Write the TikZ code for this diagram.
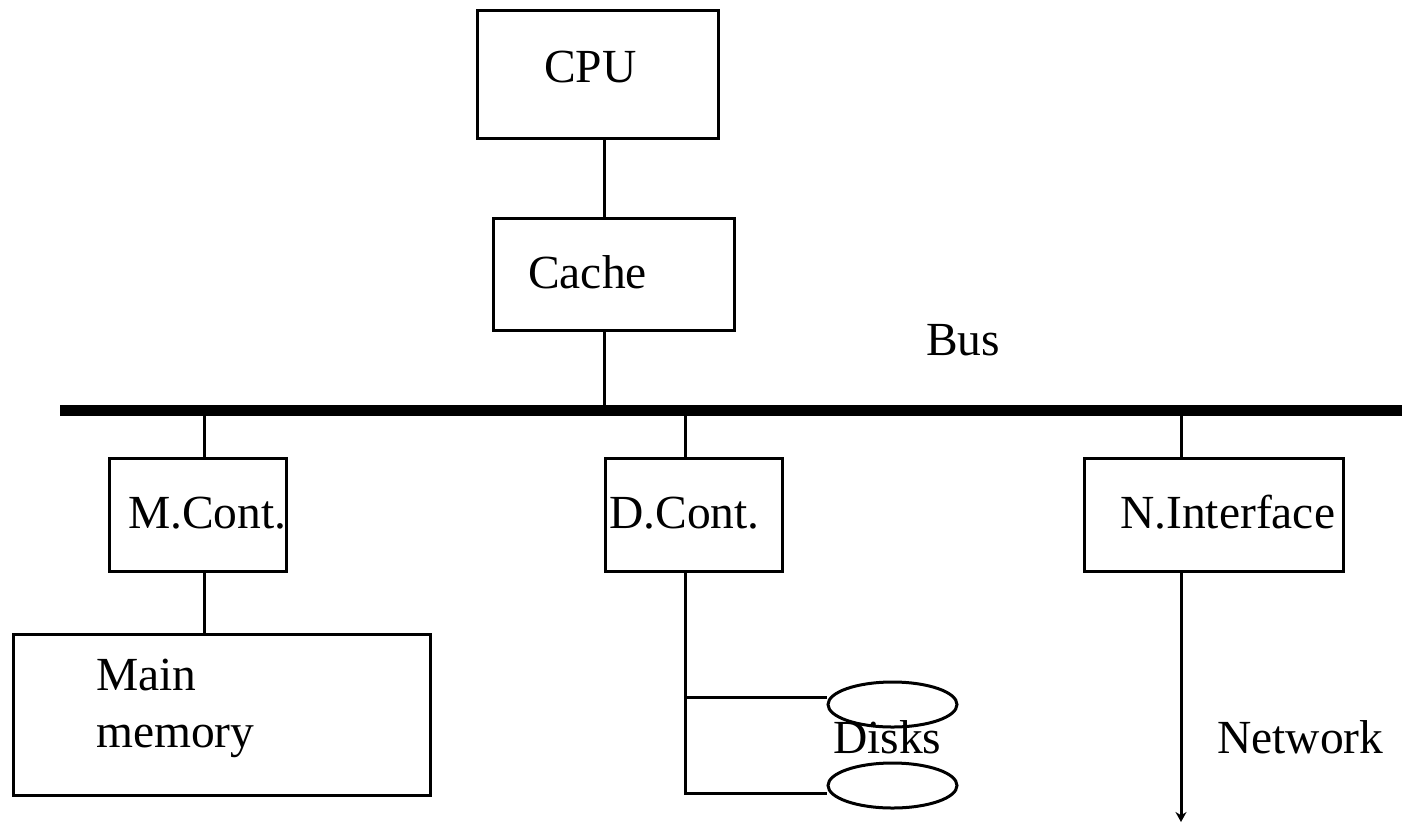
\documentclass[tikz,border=0pt]{standalone}
\usepackage{fontspec}
\setmainfont{Liberation Serif}
\usetikzlibrary{shapes.geometric,arrows.meta}
\begin{document}
\begin{tikzpicture}[x=1pt,y=-1pt,
  box/.style={draw,line width=3pt,rectangle,inner sep=0pt,anchor=north west},
  disk/.style={draw,line width=3pt,ellipse,inner sep=0pt,minimum width=129pt,minimum height=45pt},
  lbl/.style={inner sep=0pt,anchor=base west,font=\fontsize{47.5}{57}\selectfont},
  wire/.style={line width=3pt},
  busline/.style={line width=11pt}]
\useasboundingbox (0,0) rectangle (1402,823);
% boxes
\node[box,minimum width=241pt,minimum height=128pt] (cpu) at (476,9) {};
\node[box,minimum width=241pt,minimum height=112pt] (cache) at (492,217) {};
\node[box,minimum width=177pt,minimum height=113pt] (mc) at (108,457) {};
\node[box,minimum width=177pt,minimum height=113pt] (dc) at (604,457) {};
\node[box,minimum width=259pt,minimum height=113pt] (ni) at (1083,457) {};
\node[box,minimum width=417pt,minimum height=161pt] (mm) at (12,633) {};
\node[disk] (d1) at (892.5,704.5) {};
\node[disk] (d2) at (892.5,785.5) {};
% texts
\node[lbl] (tcpu) at (544,82) {CPU};
\node[lbl] (tcache) at (528,288) {Cache};
\node[lbl] (tbus) at (926,355) {Bus};
\node[lbl] (tmc) at (128,528) {M.Cont.};
\node[lbl] (tdc) at (609,528) {D.Cont.};
\node[lbl] (tni) at (1120,528) {N.Interface};
\node[lbl] (tmain) at (96,690) {Main};
\node[lbl] (tmemory) at (96,747) {memory};
\node[lbl] (tdisks) at (833,753) {Disks};
\node[lbl] (tnet) at (1217,753) {Network};
% bus
\coordinate (busL) at (60,410);
\coordinate (busR) at (1402,410);
\draw[busline] (busL) -- (busR);
% connector x positions
\coordinate (xc) at (604,410);
\coordinate (xm) at (204,410);
\coordinate (xd) at (685,410);
\coordinate (xn) at (1181,410);
\coordinate (b1) at (685,697);
\coordinate (b2) at (685,793);
\coordinate (netend) at (1181,822);
\draw[wire] (cpu.south -| xc) -- (cache.north -| xc);
\draw[wire] (cache.south -| xc) -- (xc);
\draw[wire] (xm) -- (mc.north -| xm);
\draw[wire] (mc.south -| xm) -- (mm.north -| xm);
\draw[wire] (xd) -- (dc.north -| xd);
\draw[wire] (dc.south -| xd) -- (b2) -- (d2.west |- b2);
\draw[wire] (b1) -- (d1.west |- b1);
\draw[wire] (xn) -- (ni.north -| xn);
\draw[wire,-{Stealth[length=10pt,width=11pt]}] (ni.south -| xn) -- (netend);
\end{tikzpicture}
\end{document}
